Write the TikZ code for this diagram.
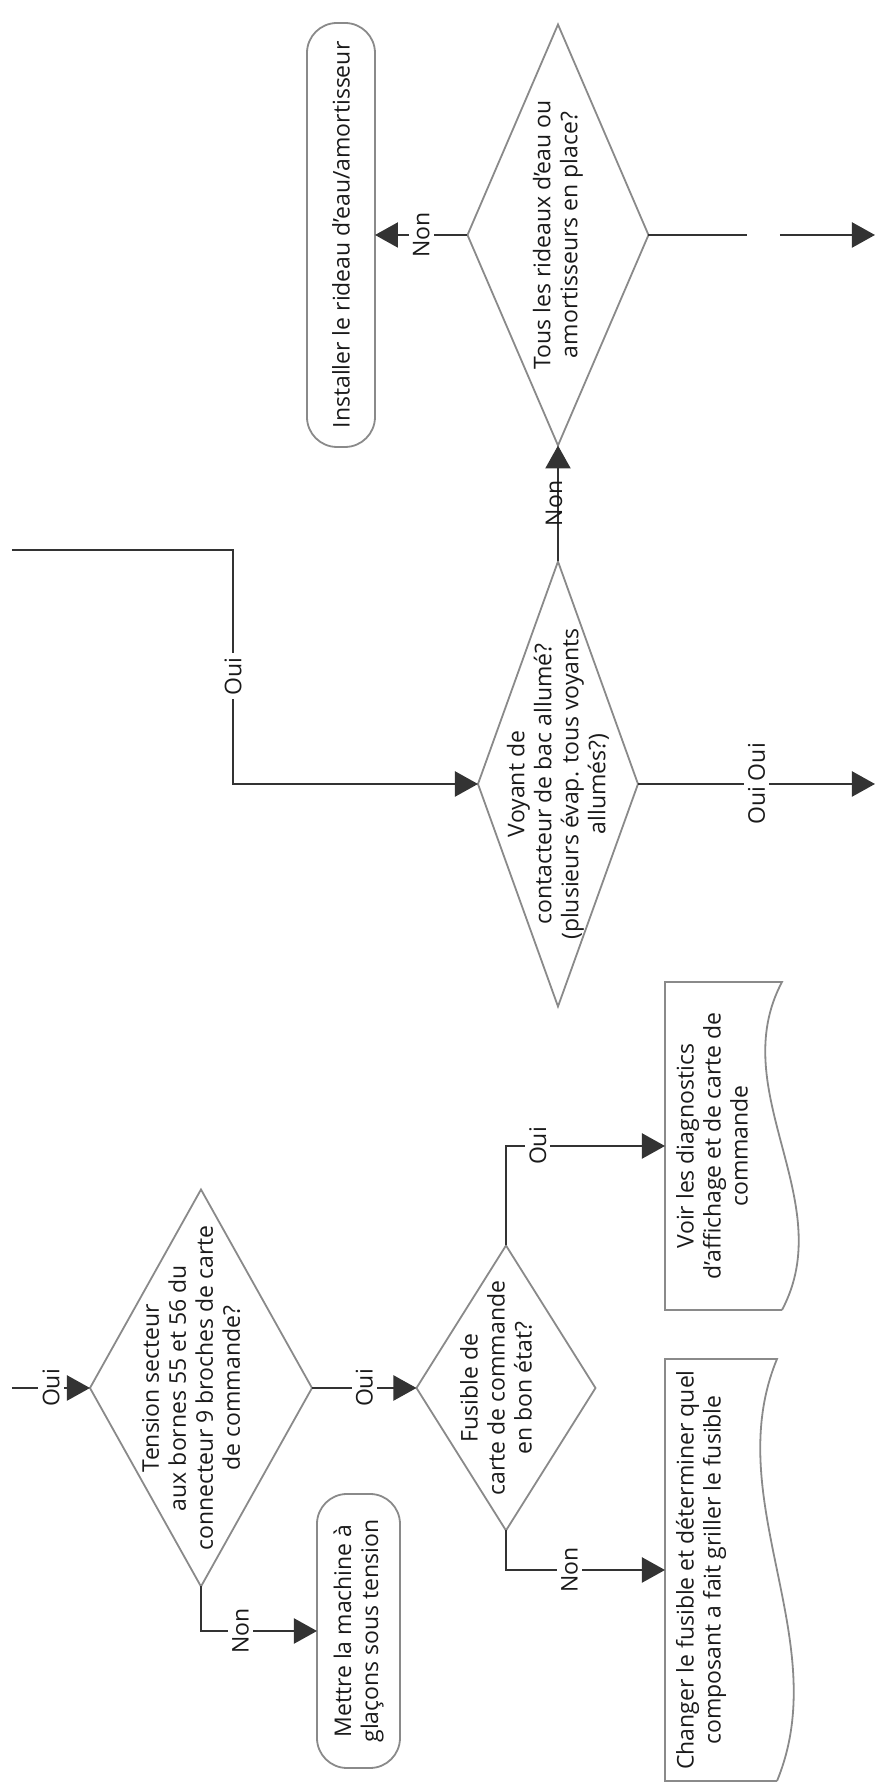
\documentclass[tikz,border=0pt]{standalone}
\usepackage{fontspec}
\setmainfont{Open Sans}
\usetikzlibrary{arrows.meta,calc,shapes.geometric}
\definecolor{cw}{HTML}{333333}
\definecolor{cd}{HTML}{8A8A8A}
\definecolor{ct}{HTML}{1A1A1A}

% document shape: straight top, wavy bottom
\newcommand{\docoutline}[1]{%
  \draw[boxline] (#1.south west) -- (#1.north west) -- (#1.north east) -- (#1.south east)
    .. controls ($(#1.south east)!0.333!(#1.south west)+(0,58)$) and ($(#1.south east)!0.667!(#1.south west)+(0,-58)$) .. (#1.south west);}

\begin{document}
\begin{tikzpicture}[x=0.5pt, y=0.5pt,
  flow/.style={-{Triangle[length=11.5pt,width=12.5pt]}, line width=1.1pt, cw},
  wire/.style={line width=1.1pt, cw},
  boxline/.style={line width=0.9pt, cd},
  txt/.style={font=\fontsize{11.5}{13.5}\selectfont, text=ct, align=center, inner sep=0pt},
  lbl/.style={txt, fill=white, inner sep=2pt},
  decision/.style={diamond, draw=cd, line width=0.9pt, inner sep=0pt, outer sep=0pt},
  terminal/.style={rectangle, rounded corners=15pt, draw=cd, line width=0.9pt, txt, outer sep=0pt},
  docbox/.style={rectangle, inner sep=0pt, outer sep=0pt}
]
\begin{scope}[rotate=90, transform shape]
\useasboundingbox (0,0) rectangle (1784,881);

% decisions
\node[decision, minimum width=210.5pt, minimum height=90.5pt,
  label={[txt]center:{Tous les rideaux d’eau ou\\amortisseurs en place?}}] (rideaux) at (1549,323) {};
\node[decision, minimum width=222.5pt, minimum height=80pt,
  label={[txt]center:{Voyant de\\contacteur de bac allumé?\\(plusieurs évap. tous voyants\\allumés?)}}] (voyant) at (1000,323) {};
\node[decision, minimum width=198.5pt, minimum height=111pt,
  label={[txt, yshift=5pt]center:{Tension secteur\\aux bornes 55 et 56 du\\connecteur 9 broches de carte\\de commande?}}] (tension) at (396,680) {};
\node[decision, minimum width=142.5pt, minimum height=89.5pt,
  label={[txt, yshift=5pt]center:{Fusible de\\carte de commande\\en bon état?}}] (fusible) at (396,375) {};

% terminals
\node[terminal, minimum width=212pt, minimum height=34pt] (installer) at (1549,540) {Installer le rideau d’eau/amortisseur};
\node[terminal, minimum width=137pt, minimum height=41.5pt] (mettre) at (153,522.5) {Mettre la machine à\\glaçons sous tension};

% documents
\node[docbox, minimum width=164pt, minimum height=58.5pt,
  label={[txt, yshift=5.75pt]center:{Voir les diagnostics\\d’affichage et de carte de\\commande}}] (voir) at (638,157.5) {};
\docoutline{voir}
\node[docbox, minimum width=211pt, minimum height=56pt,
  label={[txt, yshift=10pt]center:{Changer le fusible et déterminer quel\\composant a fait griller le fusible}}] (changer) at (214,160) {};
\docoutline{changer}

% connectors
\coordinate (inTension) at (396,869);
\draw[flow] (inTension) -- node[lbl]{Oui} (tension.north);
\draw[flow] (tension.south) -- node[lbl]{Oui} (fusible.north);
\draw[flow] (tension.west) -| node[lbl, pos=0.67]{Non} (mettre.north);
\draw[flow] (fusible.west) -| node[lbl, pos=0.70]{Non} (changer.north);
\draw[flow] (fusible.east) -| node[lbl, pos=0.6]{Oui} (voir.north);

\coordinate (inVoyant) at (1234,869);
\draw[flow] (inVoyant) -- ++(0,-221) -| node[lbl, pos=0.27]{Oui} (voyant.north);
\draw[flow] (voyant.east) -- node[txt, yshift=2pt]{Non} (rideaux.west);
\coordinate (outVoyant) at (1000,6);
\draw[flow] (voyant.south) -- node[lbl]{Oui Oui} (outVoyant);

\draw[flow] (rideaux.north) -- node[lbl]{Non} (installer.south);
\coordinate (gapA) at (1549,134);
\coordinate (gapB) at (1549,101);
\coordinate (outRideaux) at (1549,6);
\draw[wire] (rideaux.south) -- (gapA);
\draw[flow] (gapB) -- (outRideaux);
\end{scope}
\end{tikzpicture}
\end{document}
